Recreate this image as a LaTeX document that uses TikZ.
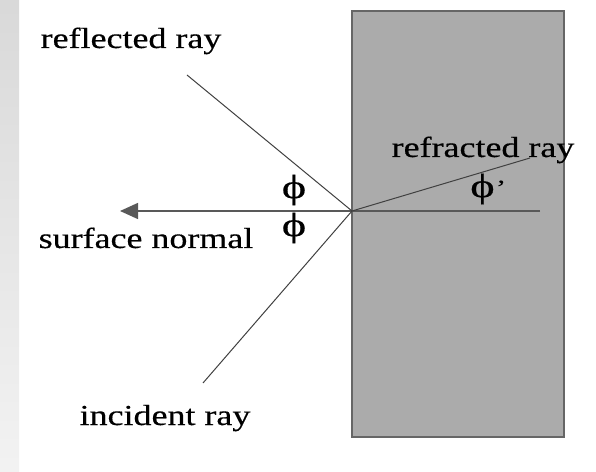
\documentclass[tikz,border=0pt]{standalone}
\usepackage{fontspec}
\setmainfont{Liberation Serif}[FakeBold=0.4]
\usetikzlibrary{arrows.meta}
\tikzset{lbl/.style={font=\fontsize{29}{32}\selectfont,xscale=1.24,transform shape,inner sep=0pt},
  angl/.style={lbl,font=\fontsize{34}{36}\selectfont,xscale=1.1},
  ray/.style={black!75,line width=1pt}}

\begin{document}
\begin{tikzpicture}[x=1pt,y=1pt]
\useasboundingbox(0,0)rectangle(596,471);
\shade[top color=black!15,bottom color=black!5](0,0)rectangle(19,471);
\filldraw[fill=black!33,draw=black!60,line width=2pt](352,34)rectangle(564,460);
\coordinate(hit)at(352,260);\coordinate(tip)at(120,260);\coordinate(nend)at(540,260);
\coordinate(refl)at(187,396);\coordinate(inc)at(203,88);\coordinate(refr)at(530,313);
\draw[black!65,line width=1.5pt,-{Triangle[length=18pt,width=16pt]}](nend)--(tip);
\foreach\e in{refl,inc,refr}{\draw[ray](hit)--(\e);}
\node[lbl,anchor=base](reflected)at(131,423){reflected ray};
\node[lbl,anchor=base](normal)at(146,223){surface normal};
\node[lbl,anchor=base](incident)at(165,46){incident ray};
\node[lbl,anchor=base](refracted)at(483,314){refracted ray};
\node[angl](phiup)at(294,281){ϕ};\node[angl](philow)at(294,243){ϕ};
\node[angl,anchor=west](phiref)at(470,282){ϕ\kern1pt\raisebox{2pt}{\fontsize{22}{24}\selectfont’}};
\end{tikzpicture}
\end{document}
